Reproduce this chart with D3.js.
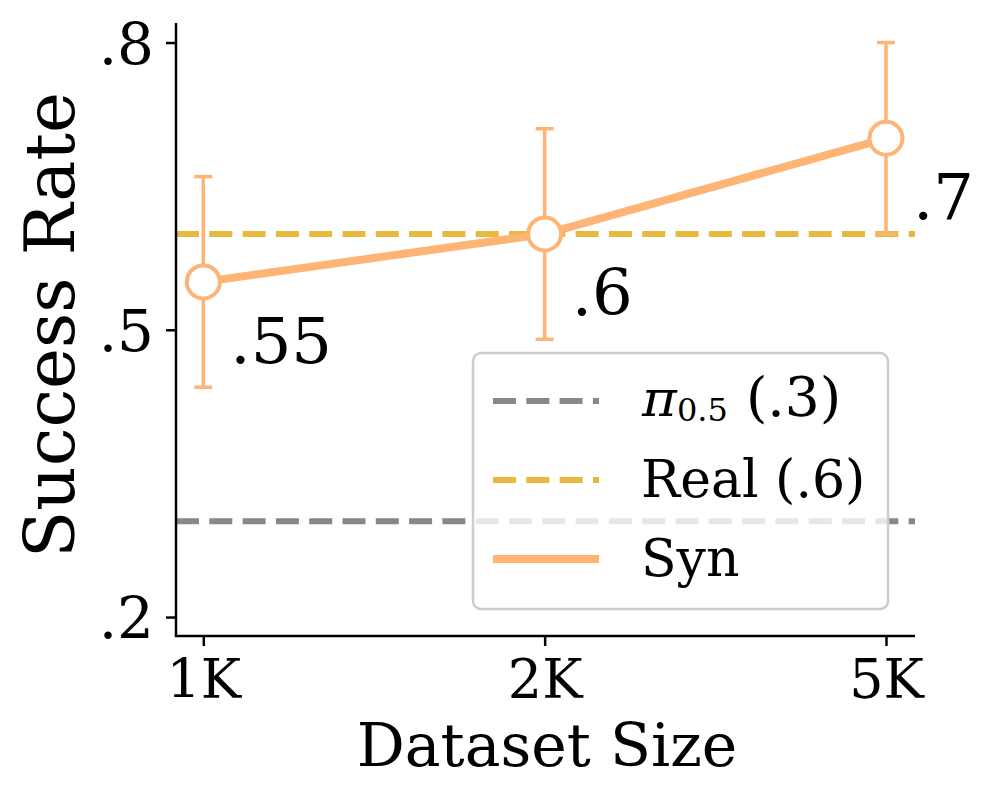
<!DOCTYPE html>
<html><head><meta charset="utf-8">
<script src="https://cdn.jsdelivr.net/npm/d3@7"></script>
<style>body{margin:0;background:#fff;} svg{display:block;} text{font-family:"DejaVu Serif",serif;fill:#000;}</style>
</head><body>
<svg id="c" width="997" height="799"></svg>
<script>
const categories = ["1K", "2K", "5K"];
const synValues = [0.55, 0.60, 0.70];
const synLower = [0.44, 0.49, 0.60];
const synUpper = [0.66, 0.71, 0.80];
const synLabels = [".55", ".6", ".7"];
const realValue = 0.6;
const piValue = 0.3;
const yTicks = [0.2, 0.5, 0.8];
const yTickLabels = [".2", ".5", ".8"];

const orange = "#FDB475", gold = "#E8B93E", gray = "#888888";
const svg = d3.select("#c");
const L = 176, R = 915, T = 23, B = 636;
const x = d3.scaleLinear().domain([-0.08, 2.085]).range([L, R]);
const y = d3.scaleLinear().domain([0.1802, 0.8204]).range([B, T]);
const DASH = "23,10.3";

// reference lines
svg.append("line").attr("x1", L).attr("x2", R).attr("y1", y(piValue)).attr("y2", y(piValue))
  .attr("stroke", gray).attr("stroke-width", 6).attr("stroke-dasharray", DASH);
svg.append("line").attr("x1", L).attr("x2", R).attr("y1", y(realValue)).attr("y2", y(realValue))
  .attr("stroke", gold).attr("stroke-width", 6).attr("stroke-dasharray", DASH);

// error bars
const eb = svg.append("g").attr("stroke", orange).attr("stroke-width", 3.5);
categories.forEach((c, i) => {
  eb.append("line").attr("x1", x(i)).attr("x2", x(i)).attr("y1", y(synLower[i])).attr("y2", y(synUpper[i]));
  [synLower[i], synUpper[i]].forEach(v => eb.append("line").attr("x1", x(i) - 9).attr("x2", x(i) + 9).attr("y1", y(v)).attr("y2", y(v)));
});

// line
svg.append("path").datum(synValues)
  .attr("d", d3.line().x((d, i) => x(i)).y(d => y(d)))
  .attr("fill", "none").attr("stroke", orange).attr("stroke-width", 8);
svg.selectAll("circle.pt").data(synValues).enter().append("circle")
  .attr("cx", (d, i) => x(i)).attr("cy", d => y(d)).attr("r", 16.5)
  .attr("fill", "#fff").attr("stroke", orange).attr("stroke-width", 4);

// annotations
svg.selectAll("text.ann").data(synValues).enter().append("text")
  .attr("x", (d, i) => x(i) + 27).attr("y", d => y(d) + 81)
  .attr("font-size", 64).text((d, i) => synLabels[i]);

// axes
const yAxis = d3.axisLeft(y).tickValues(yTicks).tickFormat((d, i) => yTickLabels[i]).tickSizeOuter(0).tickSize(10).tickPadding(12);
const gy = svg.append("g").attr("transform", `translate(${L},0)`).call(yAxis);
gy.select(".domain").attr("stroke-width", 2.5).attr("d", `M0,${T}V${B}`);
gy.selectAll(".tick line").attr("stroke-width", 2.5);
gy.selectAll(".tick text").attr("font-size", 58).attr("font-family", "DejaVu Serif").attr("dy", "0.36em");

const xAxis = d3.axisBottom(x).tickValues([0, 1, 2]).tickFormat(i => categories[i]).tickSizeOuter(0).tickSize(10).tickPadding(10);
const gx = svg.append("g").attr("transform", `translate(0,${B})`).call(xAxis);
gx.select(".domain").attr("stroke-width", 2.5).attr("d", `M${L - 1.25},0H${R}`);
gx.selectAll(".tick line").attr("stroke-width", 2.5);
gx.selectAll(".tick text").attr("font-size", 54).attr("font-family", "DejaVu Serif").attr("dy", "0.78em");

// axis titles
svg.append("text").attr("x", 547).attr("y", 766).attr("text-anchor", "middle").attr("font-size", 60).text("Dataset Size");
svg.append("text").attr("transform", "translate(74,325) rotate(-90)").attr("text-anchor", "middle").attr("font-size", 69).text("Success Rate");

// legend
const lg = svg.append("g");
lg.append("rect").attr("x", 473).attr("y", 353).attr("width", 415).attr("height", 256).attr("rx", 8)
  .attr("fill", "#fff").attr("fill-opacity", 0.8).attr("stroke", "#cccccc").attr("stroke-width", 2.5);
const legendItems = [
  {key: "pi", color: gray, dash: DASH, w: 6, yy: 401},
  {key: "real", color: gold, dash: DASH, w: 6, yy: 480},
  {key: "syn", color: orange, dash: null, w: 8, yy: 559}
];
legendItems.forEach(it => {
  lg.append("line").attr("x1", 493).attr("x2", 599).attr("y1", it.yy).attr("y2", it.yy)
    .attr("stroke", it.color).attr("stroke-width", it.w).attr("stroke-dasharray", it.dash);
  if (it.key === "pi") {
    const piT = lg.append("text").attr("x", 0).attr("y", 0).attr("font-size", 50)
      .attr("font-style", "italic").text("π");
    const bb = piT.node().getBBox();
    const sx = 37 / bb.width;
    piT.attr("transform", `translate(${641 - bb.x * sx},${it.yy + 15}) scale(${sx},1)`);
    const sub = lg.append("text").attr("x", 677).attr("y", it.yy + 20).attr("font-size", 32).text("0.5");
    const sbb = sub.node().getBBox();
    lg.append("text").attr("x", Math.max(742, sbb.x + sbb.width + 18)).attr("y", it.yy + 15).attr("font-size", 55).text("(" + ".3" + ")");
  } else {
    lg.append("text").attr("x", 641).attr("y", it.yy + 17).attr("font-size", 52)
      .text(it.key === "real" ? "Real (" + ".6" + ")" : "Syn");
  }
});
</script>
</body></html>
